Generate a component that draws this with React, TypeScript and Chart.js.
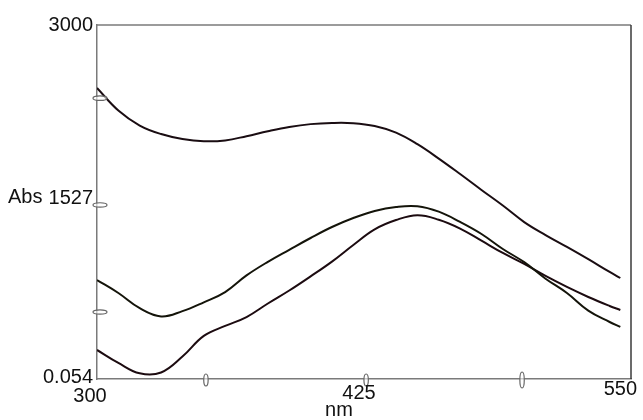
import { useEffect, useRef } from "react";
import { Chart, registerables } from "chart.js";

Chart.register(...registerables);

// Wavelength (nm)
const wavelengths = [300, 310, 320, 330, 340, 350, 360, 370, 380, 390, 400, 410, 420, 430, 440, 450, 460, 470, 480, 490, 500, 510, 520, 530, 540, 545];

// Absorbance series (upper, middle/yellow, lower)
const seriesA = [2466, 2275, 2148, 2076, 2034, 2015, 2022, 2058, 2100, 2136, 2160, 2170, 2168, 2144, 2088, 1990, 1868, 1737, 1602, 1470, 1330, 1220, 1119, 1015, 907, 856];
const seriesB = [839, 729, 600, 530, 575, 650, 737, 878, 993, 1095, 1195, 1288, 1364, 1424, 1458, 1464, 1418, 1331, 1229, 1102, 990, 850, 729, 580, 483, 441];
const seriesC = [246, 136, 48, 55, 190, 365, 450, 525, 640, 750, 870, 995, 1136, 1268, 1347, 1388, 1350, 1275, 1172, 1068, 975, 873, 780, 695, 619, 585];

// Axis ticks
const xTickValues = [300, 425, 550];
const xTickLabels = ["300", "425", "550"];
const yTickValues = [0.054, 1527, 3000];
const yTickLabels = ["0.054", "1527", "3000"];
const xTitle = "nm";
const yTitle = "Abs";

// Small oval cursor markers on the axes
const xMarkers = [351, 426, 499];
const yMarkers = [2380, 1475, 568];

const FONT = '20px "Liberation Sans", Arial, sans-serif';

const decorPlugin = {
  id: "decor",
  afterDraw(chart: any) {
    const { ctx, chartArea, scales } = chart;
    const xs = scales.x;
    const ys = scales.y;
    ctx.save();
    // top and right frame
    ctx.lineWidth = 1.5;
    ctx.strokeStyle = "#7a7a7a";
    ctx.beginPath();
    ctx.moveTo(chartArea.left, chartArea.top);
    ctx.lineTo(chartArea.right, chartArea.top);
    ctx.stroke();
    ctx.strokeStyle = "#3a3a3a";
    ctx.beginPath();
    ctx.moveTo(chartArea.right, chartArea.top);
    ctx.lineTo(chartArea.right, chartArea.bottom);
    ctx.stroke();

    // markers
    ctx.lineWidth = 1.2;
    ctx.strokeStyle = "#666";
    ctx.fillStyle = "rgba(255,255,255,0.6)";
    yMarkers.forEach((v) => {
      const py = ys.getPixelForValue(v);
      ctx.beginPath();
      ctx.ellipse(chartArea.left + 3, py, 7, 2.2, 0, 0, Math.PI * 2);
      ctx.fill();
      ctx.stroke();
    });
    xMarkers.forEach((v, i) => {
      const px = xs.getPixelForValue(v);
      ctx.beginPath();
      ctx.ellipse(px, chartArea.bottom + 1, 2.2, i === 2 ? 8 : 6, 0, 0, Math.PI * 2);
      ctx.fill();
      ctx.stroke();
    });

    // tick labels
    ctx.fillStyle = "#111";
    ctx.font = FONT;
    ctx.textBaseline = "middle";
    ctx.textAlign = "right";
    yTickValues.forEach((v, i) => {
      const py = ys.getPixelForValue(v);
      ctx.fillText(yTickLabels[i], chartArea.left - 4, Math.min(py, chartArea.bottom - 2));
    });
    xTickValues.forEach((v, i) => {
      const px = xs.getPixelForValue(v);
      const n = xTickValues.length;
      if (i === 0) {
        ctx.textAlign = "center";
        ctx.fillText(xTickLabels[i], px - 7, chartArea.bottom + 17);
      } else if (i === n - 1) {
        ctx.textAlign = "right";
        ctx.fillText(xTickLabels[i], px + 6, chartArea.bottom + 10);
      } else {
        ctx.textAlign = "center";
        ctx.fillText(xTickLabels[i], px - 5, chartArea.bottom + 14);
      }
    });
    // titles
    ctx.textAlign = "left";
    ctx.fillText(yTitle, 8, ys.getPixelForValue(1527) - 1);
    ctx.textAlign = "center";
    ctx.fillText(xTitle, (chartArea.left + chartArea.right) / 2 - 25, chartArea.bottom + 31);
    ctx.restore();
  },
};

export default function App() {
  const ref = useRef<HTMLCanvasElement | null>(null);
  useEffect(() => {
    if (!ref.current) return;
    const mk = (data: number[], color: string) => ({
      data: wavelengths.map((w, i) => ({ x: w, y: data[i] })),
      borderColor: color,
      borderWidth: 2,
      pointRadius: 0,
      fill: false,
      tension: 0.4,
    });
    const chart = new Chart(ref.current, {
      type: "line",
      data: {
        datasets: [
          mk(seriesA, "#1a0d12"),
          mk(seriesB, "#14140a"),
          mk(seriesC, "#1c0b10"),
        ],
      } as any,
      options: {
        animation: false,
        responsive: true,
        maintainAspectRatio: false,
        layout: { padding: { left: 97, top: 25, right: 12, bottom: 41 } },
        plugins: { legend: { display: false }, tooltip: { enabled: false } },
        scales: {
          x: {
            type: "linear",
            min: 300,
            max: 550,
            grid: { display: false, drawTicks: false },
            ticks: { display: false },
            border: { display: true, color: "#7a7a7a", width: 1.5 },
          },
          y: {
            type: "linear",
            min: 0.054,
            max: 3000,
            grid: { display: false, drawTicks: false },
            ticks: { display: false },
            border: { display: true, color: "#7a7a7a", width: 1.5 },
          },
        },
      },
      plugins: [decorPlugin],
    });
    return () => chart.destroy();
  }, []);
  return (
    <div style={{ position: "absolute", left: 0, top: 0, width: 643, height: 420, background: "#fff" }}>
      <canvas ref={ref} />
    </div>
  );
}
